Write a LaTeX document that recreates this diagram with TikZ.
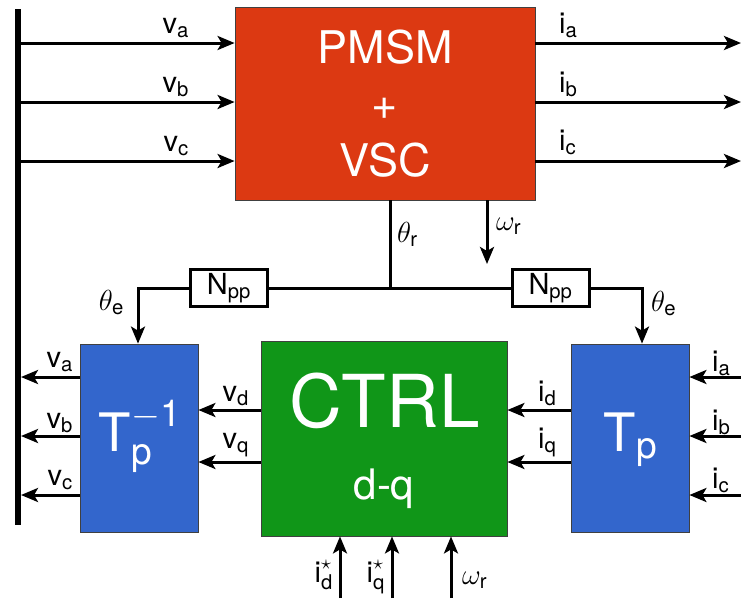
\RequirePackage{fix-cm}
\documentclass[tikz,border=0pt]{standalone}
\usepackage{amsmath}
\usepackage{fontspec}
\setmainfont{TeX Gyre Heros}
\usetikzlibrary{arrows.meta}
\definecolor{pred}{HTML}{DC3912}
\definecolor{pblue}{HTML}{3366CC}
\definecolor{pgreen}{HTML}{109618}
\begin{document}
\begin{tikzpicture}[x=1pt,y=-1pt,
  arr/.style={line width=3pt,-{Stealth[length=17pt,width=14pt,inset=4pt]}},
  wire/.style={line width=3pt},
  blk/.style={draw=black!75,line width=0.8pt,inner sep=0pt,text=white},
  gain/.style={draw,line width=3pt,fill=white,inner sep=0pt,minimum width=77pt,minimum height=37pt,font=\fontsize{29}{34}\selectfont},
  lbl/.style={font=\fontsize{29}{34}\selectfont,inner sep=0pt}]
\useasboundingbox (0,0) rectangle (741,598);

% blocks
\node[blk,fill=pred,minimum width=300pt,minimum height=193pt,align=center,font=\fontsize{45}{56.5}\selectfont] (pmsm) at (385,103.5) {PMSM\\+\\VSC};
\node[blk,fill=pblue,minimum width=118pt,minimum height=188pt] (tinv) at (139,438) {};
\node[blk,fill=pgreen,minimum width=246pt,minimum height=195pt] (ctrl) at (384,438.5) {};
\node[blk,fill=pblue,minimum width=118pt,minimum height=188pt] (tp) at (630,438) {};
\node[anchor=base,text=white,font=\fontsize{73}{80}\selectfont] (ctrlt) at (384.5,427) {CTRL};
\node[anchor=base,text=white,font=\fontsize{42}{50}\selectfont] (ctrlq) at (384,499) {d-q};
\node[anchor=base,text=white,font=\fontsize{53}{60}\selectfont] (tinvt) at (140,451) {$\text{T}_\text{p}^{-\text{1}}$};
\node[anchor=base,text=white,font=\fontsize{53}{60}\selectfont] (tpt) at (630.5,451) {$\text{T}_\text{p}$};
\node[gain] (nl) at (229,288) {$\text{N}_\text{pp}$};
\node[gain] (nr) at (550.5,288) {$\text{N}_\text{pp}$};

% bus
\coordinate (busT) at (18,9);
\coordinate (busB) at (18,525);
\draw[line width=6pt] (busT) -- (busB);

% top inputs / outputs
\coordinate (bA) at (21,43);
\coordinate (bB) at (21,102);
\coordinate (bC) at (21,161);
\draw[arr] (bA) -- (bA -| pmsm.west);
\draw[arr] (bB) -- (bB -| pmsm.west);
\draw[arr] (bC) -- (bC -| pmsm.west);
\coordinate (oA) at (741,43);
\coordinate (oB) at (741,102);
\coordinate (oC) at (741,161);
\draw[arr] (oA -| pmsm.east) -- (oA);
\draw[arr] (oB -| pmsm.east) -- (oB);
\draw[arr] (oC -| pmsm.east) -- (oC);

% angle / speed
\coordinate (jn) at (390,288);
\coordinate (wr) at (487,264);
\coordinate (tl) at (138,0);
\coordinate (tr) at (642,0);
\draw[wire] (jn |- pmsm.south) -- (jn);
\draw[arr] (wr |- pmsm.south) -- (wr);
\draw[wire] (jn) -- (nl.east);
\draw[wire] (jn) -- (nr.west);
\draw[arr] (nl.west) -| (tl |- tinv.north);
\draw[arr] (nr.east) -| (tr |- tp.north);

% left outputs
\coordinate (lA) at (21,377);
\coordinate (lB) at (21,436);
\coordinate (lC) at (21,495);
\draw[arr] (lA -| tinv.west) -- (lA);
\draw[arr] (lB -| tinv.west) -- (lB);
\draw[arr] (lC -| tinv.west) -- (lC);

% d-q links
\coordinate (dL) at (0,410);
\coordinate (qL) at (0,462);
\draw[arr] (dL -| ctrl.west) -- (dL -| tinv.east);
\draw[arr] (qL -| ctrl.west) -- (qL -| tinv.east);
\draw[arr] (dL -| tp.west) -- (dL -| ctrl.east);
\draw[arr] (qL -| tp.west) -- (qL -| ctrl.east);

% right inputs
\coordinate (rA) at (741,377);
\coordinate (rB) at (741,436);
\coordinate (rC) at (741,495);
\draw[arr] (rA) -- (rA -| tp.east);
\draw[arr] (rB) -- (rB -| tp.east);
\draw[arr] (rC) -- (rC -| tp.east);

% bottom inputs
\coordinate (b1) at (340,598);
\coordinate (b2) at (392,598);
\coordinate (b3) at (451,598);
\draw[arr] (b1) -- (b1 |- ctrl.south);
\draw[arr] (b2) -- (b2 |- ctrl.south);
\draw[arr] (b3) -- (b3 |- ctrl.south);

% labels
\node[lbl,anchor=base east] (lva) at (189,33) {$\text{v}_\text{a}$};
\node[lbl,anchor=base east] (lvb) at (189,92) {$\text{v}_\text{b}$};
\node[lbl,anchor=base east] (lvc) at (189,151) {$\text{v}_\text{c}$};
\node[lbl,anchor=base west] (lia) at (559,33) {$\text{i}_\text{a}$};
\node[lbl,anchor=base west] (lib) at (559,92) {$\text{i}_\text{b}$};
\node[lbl,anchor=base west] (lic) at (559,150) {$\text{i}_\text{c}$};
\node[lbl,anchor=base west] (lthr) at (397,242) {$\theta_\text{r}$};
\node[lbl,anchor=base west] (lwr) at (496,230) {$\omega_\text{r}$};
\node[lbl,anchor=base east] (lthl) at (124,310) {$\theta_\text{e}$};
\node[lbl,anchor=base west] (lthrr) at (651,311) {$\theta_\text{e}$};
\node[lbl,anchor=base east] (lva2) at (73,367) {$\text{v}_\text{a}$};
\node[lbl,anchor=base east] (lvb2) at (73,428) {$\text{v}_\text{b}$};
\node[lbl,anchor=base east] (lvc2) at (73,485) {$\text{v}_\text{c}$};
\node[lbl,anchor=base east] (lvd) at (249,401) {$\text{v}_\text{d}$};
\node[lbl,anchor=base east] (lvq) at (249,448) {$\text{v}_\text{q}$};
\node[lbl,anchor=base west] (lid) at (538,401) {$\text{i}_\text{d}$};
\node[lbl,anchor=base west] (liq) at (538,448) {$\text{i}_\text{q}$};
\node[lbl,anchor=base west] (lia2) at (712,371) {$\text{i}_\text{a}$};
\node[lbl,anchor=base west] (lib2) at (712,430) {$\text{i}_\text{b}$};
\node[lbl,anchor=base west] (lic2) at (712,488) {$\text{i}_\text{c}$};
\node[lbl,anchor=base east] (lids) at (333,582) {$\text{i}^\star_\text{d}$};
\node[lbl,anchor=base east] (liqs) at (385,582) {$\text{i}^\star_\text{q}$};
\node[lbl,anchor=base west] (lwr2) at (462,584) {$\omega_\text{r}$};
\end{tikzpicture}
\end{document}
